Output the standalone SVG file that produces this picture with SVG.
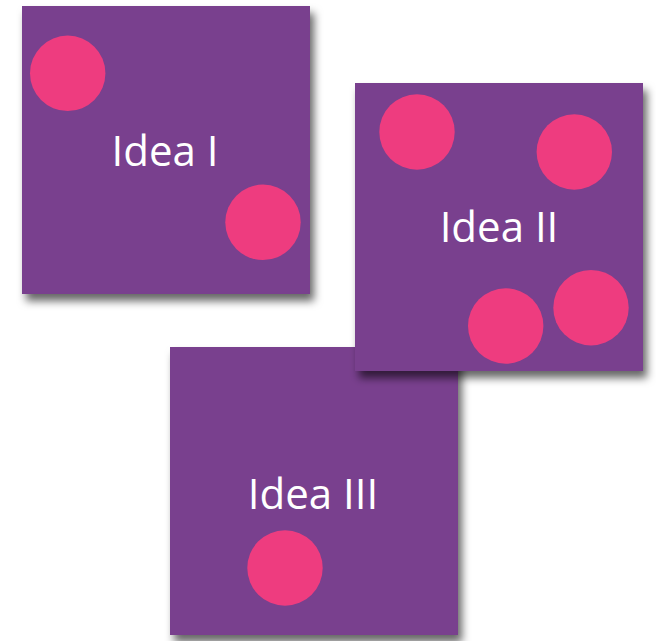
<svg xmlns="http://www.w3.org/2000/svg" width="656" height="641" viewBox="0 0 656 641">
<defs>
<filter id="sh" x="-10%" y="-10%" width="125%" height="125%">
<feDropShadow dx="4" dy="7" stdDeviation="4" flood-color="#000" flood-opacity="0.6"/>
</filter>
<style>
.box{fill:#793F8E;filter:url(#sh)}
.dot{fill:#EE3C7F}
.lbl{fill:#fff;font-family:"Open Sans","Noto Sans",sans-serif;font-size:42px;text-anchor:middle}
</style>
</defs>
<g id="connectors"></g>
<g id="idea3">
<rect class="box" x="170" y="347" width="288" height="288"/>
<circle class="dot" cx="285" cy="568" r="37.7"/>
<text class="lbl" x="313" y="509">Idea III</text>
</g>
<g id="idea1">
<rect class="box" x="22" y="6" width="288" height="288"/>
<circle class="dot" cx="67.7" cy="73.3" r="37.7"/>
<circle class="dot" cx="263" cy="222.3" r="37.7"/>
<text class="lbl" x="165" y="166">Idea I</text>
</g>
<g id="idea2">
<rect class="box" x="355" y="83" width="288" height="288"/>
<circle class="dot" cx="417" cy="132" r="37.7"/>
<circle class="dot" cx="574.3" cy="152" r="37.7"/>
<circle class="dot" cx="591" cy="307.7" r="37.7"/>
<circle class="dot" cx="505.7" cy="326" r="37.7"/>
<text class="lbl" x="499" y="242">Idea II</text>
</g>
</svg>
